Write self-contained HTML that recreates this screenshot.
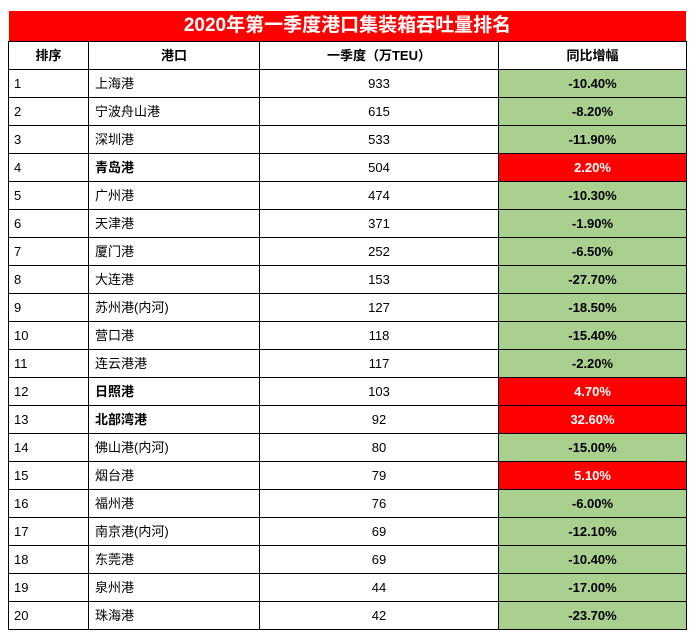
<!DOCTYPE html><html><head><meta charset="utf-8"><style>
body{margin:0;background:#fff;width:695px;height:634px;overflow:hidden;font-family:"Liberation Sans","Noto Sans CJK SC",sans-serif;}
.t{position:absolute;left:9px;top:11px;width:677px;height:30px;background:#ff0000;color:#fff;font-weight:bold;font-size:19px;line-height:30px;text-align:center;}
table{position:absolute;left:8px;top:41px;border-collapse:collapse;table-layout:fixed;}
tr{height:28px}
td,th{border:1px solid #000;height:27px;padding:0;font-size:13px;line-height:16px;color:#000;box-sizing:border-box;}
th{font-weight:bold;}
td.a{padding-left:5px}td.b{padding-left:6px}td.c{text-align:center}
td.d{text-align:center;background:#a9d08e;font-weight:bold;}
td.r{background:#ff0000;color:#fff}
tr.s td.b{font-weight:bold}
</style></head><body>
<div class="t">2020年第一季度港口集装箱吞吐量排名</div>
<table>
<colgroup><col style="width:80px"><col style="width:171px"><col style="width:239px"><col style="width:188px"></colgroup>
<tr><th>排序</th><th>港口</th><th>一季度（万TEU）</th><th>同比增幅</th></tr>
<tr><td class="a">1</td><td class="b">上海港</td><td class="c">933</td><td class="d">-10.40%</td></tr>
<tr><td class="a">2</td><td class="b">宁波舟山港</td><td class="c">615</td><td class="d">-8.20%</td></tr>
<tr><td class="a">3</td><td class="b">深圳港</td><td class="c">533</td><td class="d">-11.90%</td></tr>
<tr class="s"><td class="a">4</td><td class="b">青岛港</td><td class="c">504</td><td class="d r">2.20%</td></tr>
<tr><td class="a">5</td><td class="b">广州港</td><td class="c">474</td><td class="d">-10.30%</td></tr>
<tr><td class="a">6</td><td class="b">天津港</td><td class="c">371</td><td class="d">-1.90%</td></tr>
<tr><td class="a">7</td><td class="b">厦门港</td><td class="c">252</td><td class="d">-6.50%</td></tr>
<tr><td class="a">8</td><td class="b">大连港</td><td class="c">153</td><td class="d">-27.70%</td></tr>
<tr><td class="a">9</td><td class="b">苏州港(内河)</td><td class="c">127</td><td class="d">-18.50%</td></tr>
<tr><td class="a">10</td><td class="b">营口港</td><td class="c">118</td><td class="d">-15.40%</td></tr>
<tr><td class="a">11</td><td class="b">连云港港</td><td class="c">117</td><td class="d">-2.20%</td></tr>
<tr class="s"><td class="a">12</td><td class="b">日照港</td><td class="c">103</td><td class="d r">4.70%</td></tr>
<tr class="s"><td class="a">13</td><td class="b">北部湾港</td><td class="c">92</td><td class="d r">32.60%</td></tr>
<tr><td class="a">14</td><td class="b">佛山港(内河)</td><td class="c">80</td><td class="d">-15.00%</td></tr>
<tr><td class="a">15</td><td class="b">烟台港</td><td class="c">79</td><td class="d r">5.10%</td></tr>
<tr><td class="a">16</td><td class="b">福州港</td><td class="c">76</td><td class="d">-6.00%</td></tr>
<tr><td class="a">17</td><td class="b">南京港(内河)</td><td class="c">69</td><td class="d">-12.10%</td></tr>
<tr><td class="a">18</td><td class="b">东莞港</td><td class="c">69</td><td class="d">-10.40%</td></tr>
<tr><td class="a">19</td><td class="b">泉州港</td><td class="c">44</td><td class="d">-17.00%</td></tr>
<tr><td class="a">20</td><td class="b">珠海港</td><td class="c">42</td><td class="d">-23.70%</td></tr>
</table>
</body></html>
